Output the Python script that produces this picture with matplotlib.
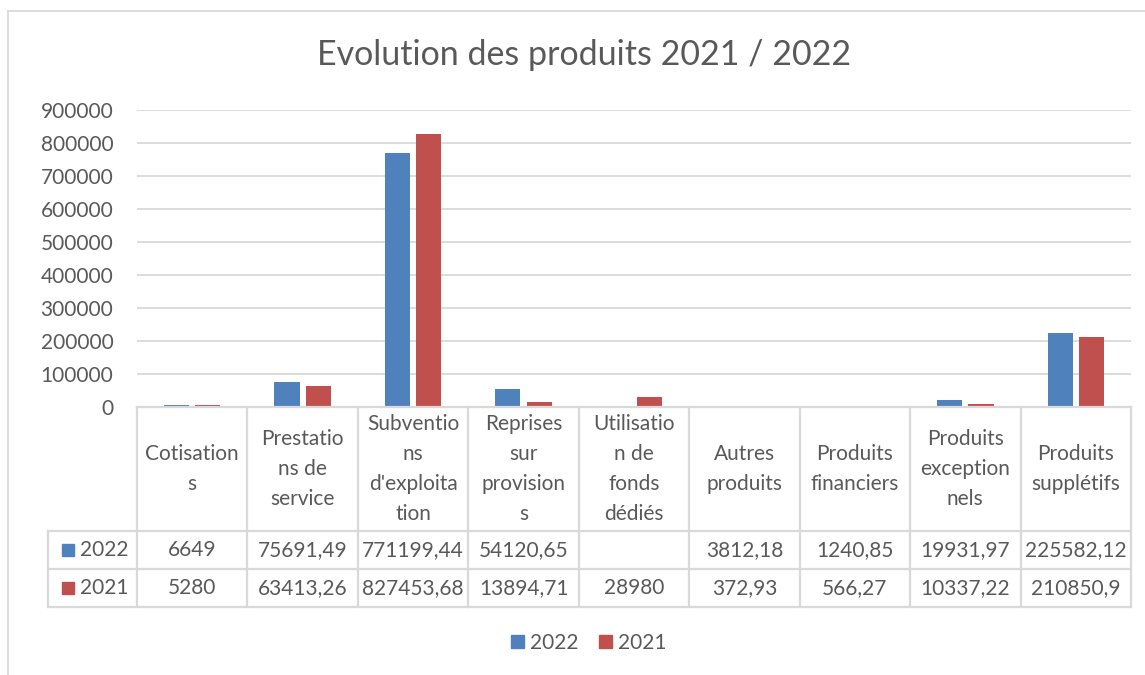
import matplotlib
matplotlib.use('Agg')
import matplotlib.pyplot as plt
from matplotlib.lines import Line2D
from matplotlib.patches import Rectangle
import numpy as np

# data
header_labels = ['Cotisation\ns', 'Prestatio\nns de\nservice', 'Subventio\nns\nd\'exploita\ntion',
                 'Reprises\nsur\nprovision\ns', 'Utilisatio\nn de\nfonds\ndédiés', 'Autres\nproduits',
                 'Produits\nfinanciers', 'Produits\nexception\nnels', 'Produits\nsupplétifs']
series_names = ['2022', '2021']
values_2022 = [6649, 75691.49, 771199.44, 54120.65, None, 3812.18, 1240.85, 19931.97, 225582.12]
values_2021 = [5280, 63413.26, 827453.68, 13894.71, 28980, 372.93, 566.27, 10337.22, 210850.9]
y_ticks = [0, 100000, 200000, 300000, 400000, 500000, 600000, 700000, 800000, 900000]

col_2022 = '#4F81BD'
col_2021 = '#C0504D'
grid_col = '#D9D9D9'
txt_col = '#595959'

plt.rcParams['font.family'] = ['Lato', 'DejaVu Sans']

W, H = 1145, 675
fig = plt.figure(figsize=(W / 100, H / 100), dpi=100)

def fx(px):
    return px / W

def fy(py):
    return 1 - py / H

# plot area in pixels
x0, x1 = 137, 1131
y_top, y_zero = 110, 407
ax = fig.add_axes([fx(x0), fy(y_zero), fx(x1 - x0), (y_zero - y_top) / H])

n = len(header_labels)
idx = np.arange(n) + 0.5
bw = 0.227
off = 0.142
v22 = [0 if v is None else v for v in values_2022]
ax.bar(idx - off, v22, bw, color=col_2022, zorder=3)
ax.bar(idx + off, values_2021, bw, color=col_2021, zorder=3)

ax.set_xlim(0, n)
ax.set_ylim(0, 900000)
ax.set_yticks(y_ticks)
ax.set_yticklabels([str(t) for t in y_ticks])
ax.tick_params(axis='y', length=0, pad=17, labelsize=15, labelcolor=txt_col)
ax.set_xticks([])
ax.yaxis.grid(True, color=grid_col, linewidth=1.3)
ax.set_axisbelow(True)
for s in ax.spines.values():
    s.set_visible(False)

# outer chart border
fig.add_artist(Line2D([fx(7.5), fx(W)], [fy(11), fy(11)], color=grid_col, lw=1.3))
fig.add_artist(Line2D([fx(7.5), fx(7.5)], [fy(11), fy(H)], color=grid_col, lw=1.3))

# title
fig.text(fx(584), fy(55), 'Evolution des produits 2021 / 2022', ha='center', va='center',
         fontsize=24.5, color=txt_col)

# data table
cw = (x1 - x0) / n
r_head, r1, r2, r_end = 407, 531, 569, 607
tab_left = 48
line_kw = dict(color=grid_col, lw=1.6)
fig.add_artist(Line2D([fx(x0), fx(x1)], [fy(r_head)] * 2, **line_kw))
for yy in (r1, r2, r_end):
    fig.add_artist(Line2D([fx(tab_left), fx(x1)], [fy(yy)] * 2, **line_kw))
for i in range(n + 1):
    xx = x0 + i * cw
    fig.add_artist(Line2D([fx(xx)] * 2, [fy(r_head), fy(r_end)], **line_kw))
fig.add_artist(Line2D([fx(tab_left)] * 2, [fy(r1), fy(r_end)], **line_kw))

def fmt(v):
    if v is None:
        return ''
    return ('%.2f' % v).rstrip('0').rstrip('.').replace('.', ',')

for i, lab in enumerate(header_labels):
    cx = x0 + (i + 0.5) * cw
    fig.text(fx(cx), fy((r_head + r1) / 2), lab, ha='center', va='center', fontsize=15,
             color=txt_col, linespacing=1.62)
    fig.text(fx(cx), fy((r1 + r2) / 2), fmt(values_2022[i]), ha='center', va='center',
             fontsize=15, color=txt_col)
    fig.text(fx(cx), fy((r2 + r_end) / 2), fmt(values_2021[i]), ha='center', va='center',
             fontsize=15, color=txt_col)

for name, col, ya, yb in [(series_names[0], col_2022, r1, r2), (series_names[1], col_2021, r2, r_end)]:
    yc = (ya + yb) / 2
    fig.add_artist(Rectangle((fx(62), fy(yc + 6)), fx(12), 12 / H, color=col))
    fig.text(fx(80), fy(yc), name, ha='left', va='center', fontsize=15, color=txt_col)

# legend
handles = [Rectangle((0, 0), 1, 1, color=col_2022), Rectangle((0, 0), 1, 1, color=col_2021)]
fig.legend(handles, series_names, loc='center', bbox_to_anchor=(fx(589), fy(643)), ncol=2,
           frameon=False, fontsize=15, handlelength=0.6, handleheight=0.6, handletextpad=0.3,
           columnspacing=1.0, labelcolor=txt_col)

fig.savefig('out.png', dpi=100)
